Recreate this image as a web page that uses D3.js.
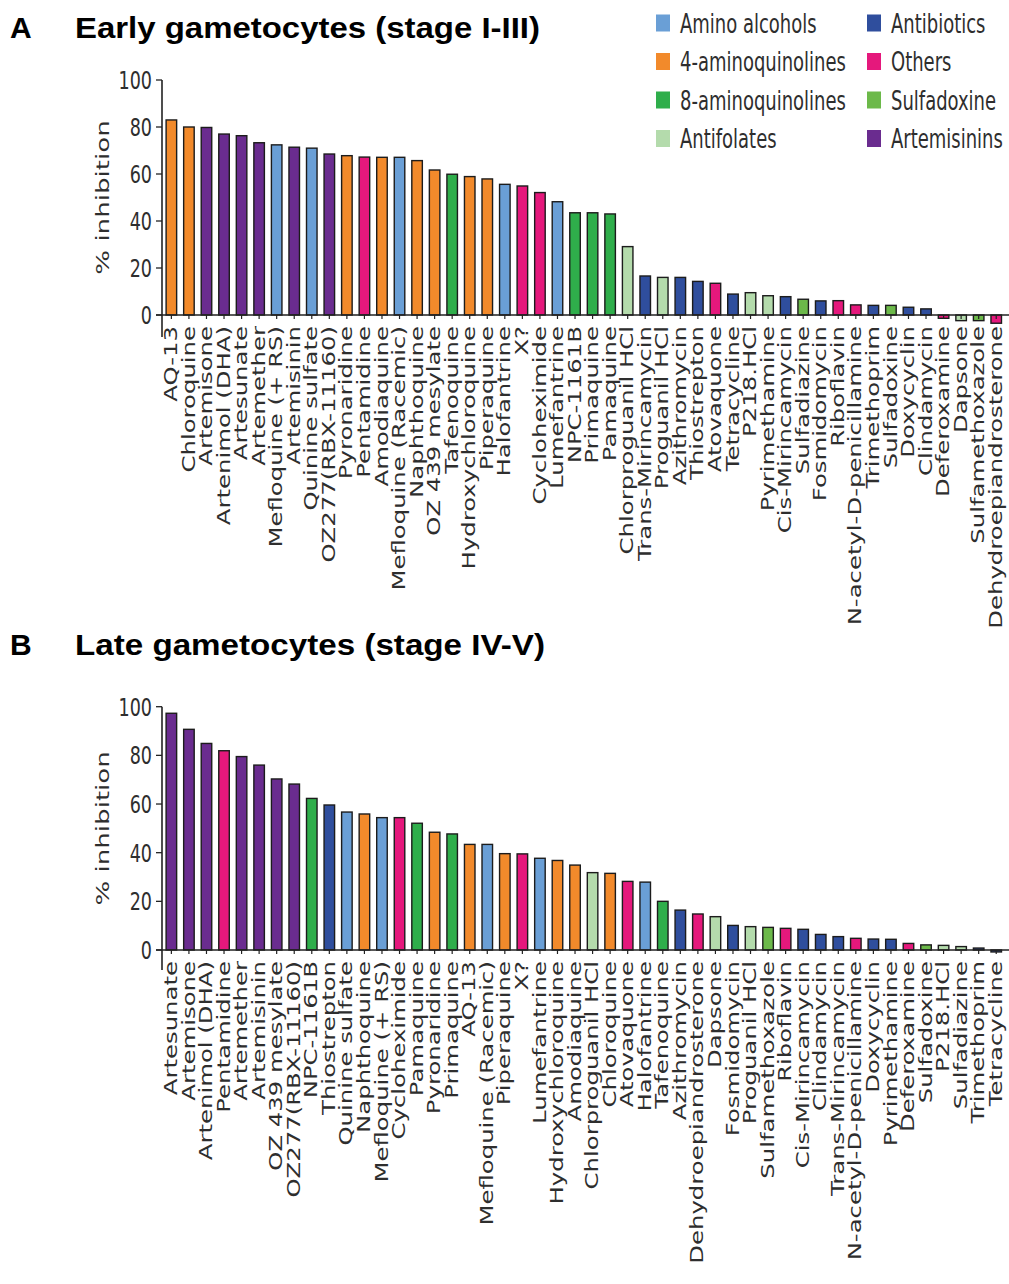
<!DOCTYPE html>
<html><head><meta charset="utf-8">
<script src="https://cdn.jsdelivr.net/npm/d3@7"></script>
<style>body{margin:0;background:#fff}svg{display:block}</style>
</head><body><svg id="c" width="1009" height="1284"></svg>
<script>
// ---- data ----
const groupCodes = ["AA","4A","8A","AF","AB","OT","SD","AR"];
const groupNames = ["Amino alcohols","4-aminoquinolines","8-aminoquinolines","Antifolates","Antibiotics","Others","Sulfadoxine","Artemisinins"];
const groupColors = ["#6a9fd6","#f28a2b","#2fae4b","#b4dbac","#2f4e9d","#e5187c","#6cb94a","#6a2c8f"];

const earlyDrugs = ["AQ-13","Chloroquine","Artemisone","Artenimol (DHA)","Artesunate","Artemether","Mefloquine (+ RS)","Artemisinin","Quinine sulfate","OZ277(RBX-11160)","Pyronaridine","Pentamidine","Amodiaquine","Mefloquine (Racemic)","Naphthoquine","OZ 439 mesylate","Tafenoquine","Hydroxychloroquine","Piperaquine","Halofantrine","X?","Cycloheximide","Lumefantrine","NPC-1161B","Primaquine","Pamaquine","Chlorproguanil HCl","Trans-Mirincamycin","Proguanil HCl","Azithromycin","Thiostrepton","Atovaquone","Tetracycline","P218.HCl","Pyrimethamine","Cis-Mirincamycin","Sulfadiazine","Fosmidomycin","Riboflavin","N-acetyl-D-penicillamine","Trimethoprim","Sulfadoxine","Doxycyclin","Clindamycin","Deferoxamine","Dapsone","Sulfamethoxazole","Dehydroepiandrosterone"];
const earlyValues = [83,80,79.8,77,76.3,73.3,72.4,71.4,71,68.5,67.8,67.2,67.1,67.1,65.7,61.7,59.9,58.9,57.9,55.6,54.9,52.1,48.2,43.5,43.5,43,29.1,16.6,16,16,14.3,13.5,8.9,9.5,8.2,7.8,6.7,6,6.1,4.3,4.1,4.1,3.3,2.6,-1.4,-2.4,-2.4,-3.5];
const earlyGroups = ["4A","4A","AR","AR","AR","AR","AA","AR","AA","AR","4A","OT","4A","AA","4A","4A","8A","4A","4A","AA","OT","OT","AA","8A","8A","8A","AF","AB","AF","AB","AB","OT","AB","AF","AF","AB","SD","AB","OT","OT","AB","SD","AB","AB","OT","AF","SD","OT"];

const lateDrugs = ["Artesunate","Artemisone","Artenimol (DHA)","Pentamidine","Artemether","Artemisinin","OZ 439 mesylate","OZ277(RBX-11160)","NPC-1161B","Thiostrepton","Quinine sulfate","Naphthoquine","Mefloquine (+ RS)","Cycloheximide","Pamaquine","Pyronaridine","Primaquine","AQ-13","Mefloquine (Racemic)","Piperaquine","X?","Lumefantrine","Hydroxychloroquine","Amodiaquine","Chlorproguanil HCl","Chloroquine","Atovaquone","Halofantrine","Tafenoquine","Azithromycin","Dehydroepiandrosterone","Dapsone","Fosmidomycin","Proguanil HCl","Sulfamethoxazole","Riboflavin","Cis-Mirincamycin","Clindamycin","Trans-Mirincamycin","N-acetyl-D-penicillamine","Doxycyclin","Pyrimethamine","Deferoxamine","Sulfadoxine","P218.HCl","Sulfadiazine","Trimethoprim","Tetracycline"];
const lateValues = [97.3,90.7,84.9,81.9,79.5,76,70.3,68.2,62.3,59.6,56.7,55.9,54.4,54.4,52.1,48.4,47.7,43.4,43.4,39.6,39.5,37.7,36.8,34.9,31.8,31.5,28.2,27.9,20,16.4,14.8,13.7,10.1,9.6,9.3,8.9,8.5,6.4,5.5,4.8,4.5,4.4,2.7,2.1,1.9,1.4,0.8,-0.8];
const lateGroups = ["AR","AR","AR","OT","AR","AR","AR","AR","8A","AB","AA","4A","AA","OT","8A","4A","8A","4A","AA","4A","OT","AA","4A","4A","AF","4A","OT","AA","8A","AB","OT","AF","AB","AF","SD","OT","AB","AB","AB","OT","AB","AB","OT","SD","AF","AF","AB","AB"];

const yTicks = [0,20,40,60,80,100];

// ---- drawing ----
const svg = d3.select("#c");
const color = d3.scaleOrdinal().domain(groupCodes).range(groupColors);
const TXT = "#2e2e2e";
const STEP = 17.55;

function panel(drugs, values, groups, y100, y0, axisBottom, labelTop) {
  const x = d3.scaleBand().domain(drugs).range([162.6, 162.6 + 48 * STEP]).paddingInner(0.4).paddingOuter(0.2);
  const y = d3.scaleLinear().domain([0, 100]).range([y0, y100]);
  const g = svg.append("g");
  const rows = drugs.map((d, i) => ({d, v: values[i], grp: groups[i]}));

  g.selectAll("rect.bar").data(rows).enter().append("rect")
    .attr("x", r => x(r.d)).attr("width", x.bandwidth())
    .attr("y", r => Math.min(y(r.v), y(0)))
    .attr("height", r => Math.abs(y(r.v) - y(0)))
    .attr("fill", r => color(r.grp))
    .attr("stroke", "#1c1c1c").attr("stroke-width", 1.4);

  // x axis (zero line + small ticks)
  g.append("line").attr("x1", 156).attr("x2", 1009).attr("y1", y(0)).attr("y2", y(0))
    .attr("stroke", "#222").attr("stroke-width", 1.6);
  g.selectAll("line.xt").data(drugs).enter().append("line")
    .attr("x1", d => x(d) + x.bandwidth() / 2).attr("x2", d => x(d) + x.bandwidth() / 2)
    .attr("y1", y(0)).attr("y2", y(0) + 4).attr("stroke", "#222").attr("stroke-width", 1.2);

  // y axis
  g.append("line").attr("x1", 162).attr("x2", 162).attr("y1", y(100)).attr("y2", axisBottom)
    .attr("stroke", "#222").attr("stroke-width", 1.6);
  const yt = g.selectAll("g.yt").data(yTicks).enter().append("g");
  yt.append("line").attr("x1", 156).attr("x2", 162).attr("y1", d => y(d)).attr("y2", d => y(d))
    .attr("stroke", "#222").attr("stroke-width", 1.3);
  yt.append("text").attr("transform", d => `translate(152,${y(d)}) scale(1,1.3)`)
    .attr("text-anchor", "end").attr("dominant-baseline", "central")
    .attr("font-family", "DejaVu Sans Condensed, DejaVu Sans").attr("font-size", 19.5)
    .attr("fill", TXT).text(d => d);

  // y label
  g.append("text").attr("transform", `translate(103,${(y(0) + y(100)) / 2}) rotate(-90) scale(1.45,1)`)
    .attr("text-anchor", "middle").attr("dominant-baseline", "central")
    .attr("font-family", "DejaVu Sans").attr("font-size", 18).attr("fill", TXT)
    .text("% inhibition");

  // x labels
  g.selectAll("text.xl").data(drugs).enter().append("text")
    .attr("transform", d => `translate(${x(d) + x.bandwidth() / 2},${labelTop}) rotate(-90) scale(1.45,1)`)
    .attr("text-anchor", "end").attr("dominant-baseline", "central")
    .attr("font-family", "DejaVu Sans").attr("font-size", 16.8).attr("fill", TXT)
    .text(d => d);
}

panel(earlyDrugs, earlyValues, earlyGroups, 80, 315, 337, 326);
panel(lateDrugs, lateValues, lateGroups, 706.7, 950, 970, 961);

// titles
function title(letter, txt, yb, w) {
  svg.append("text").attr("x", 10).attr("y", yb).attr("font-family", "Liberation Sans, Arial")
    .attr("font-weight", "bold").attr("font-size", 30).attr("fill", "#000").text(letter);
  svg.append("text").attr("x", 75).attr("y", yb).attr("font-family", "Liberation Sans, Arial")
    .attr("font-weight", "bold").attr("font-size", 30).attr("fill", "#000")
    .attr("textLength", w).attr("lengthAdjust", "spacingAndGlyphs").text(txt);
}
title("A", "Early gametocytes (stage I-III)", 38, 465);
title("B", "Late gametocytes (stage IV-V)", 655, 470);

// legend
const lg = svg.append("g").selectAll("g").data(groupNames).enter().append("g")
  .attr("transform", (d, i) => `translate(${i < 4 ? 656 : 867},${23 + (i % 4) * 38.5})`);
lg.append("rect").attr("x", 0).attr("y", -8.5).attr("width", 14).attr("height", 17)
  .attr("fill", (d, i) => groupColors[i]);
lg.append("text").attr("transform", "translate(24,0) scale(1,1.3)")
  .attr("dominant-baseline", "central").attr("font-family", "DejaVu Sans Condensed, DejaVu Sans")
  .attr("font-size", 20).attr("fill", TXT).text(d => d);
</script>
</body></html>
